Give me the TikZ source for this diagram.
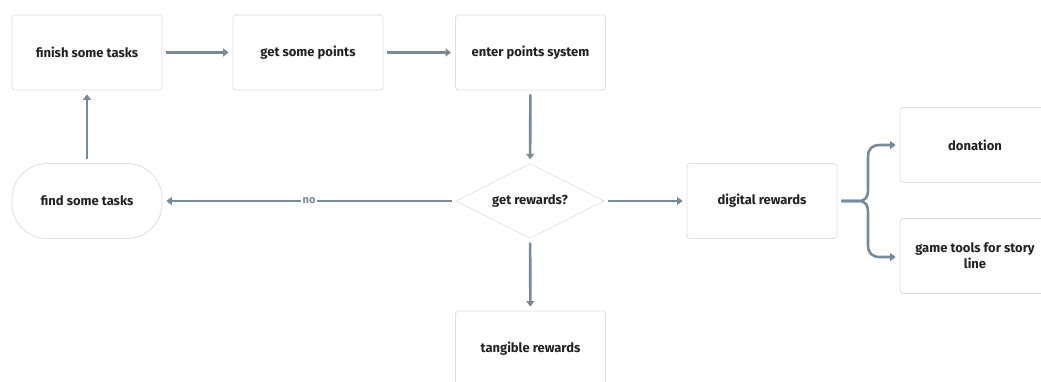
\documentclass[tikz,border=0pt]{standalone}
\usepackage{fontspec}
\setmainfont{Fira Sans}
\usetikzlibrary{arrows.meta,shapes.geometric}
\definecolor{arrowc}{RGB}{120,138,152}
\definecolor{boxline}{RGB}{222,222,222}
\definecolor{txt}{RGB}{34,34,34}
\tikzset{
  stepbox/.style={draw=boxline, line width=0.8pt, rounded corners=3pt, fill=white,
    minimum width=150pt, minimum height=75pt, inner sep=2pt,
    font=\bfseries\fontsize{13}{16}\selectfont, text=txt, align=center},
  termbox/.style={stepbox, rounded corners=35pt},
  decbox/.style={draw=boxline, line width=0.6pt, diamond, aspect=2, fill=white,
    minimum width=148pt, minimum height=75pt, inner sep=0pt,
    font=\bfseries\fontsize{13}{15}\selectfont, text=txt},
  arr/.style={draw=arrowc, line width=2.6pt, shorten >=4pt, shorten <=4pt,
    -{Triangle[length=5.5pt,width=8pt]}},
  lbl/.style={fill=white, text=arrowc, inner sep=1.5pt, font=\bfseries\fontsize{11}{13}\selectfont}
}
\begin{document}
\begin{tikzpicture}[x=1pt,y=-1pt]
\useasboundingbox (0,0) rectangle (1041,381);
\begin{scope}
\clip (0,0) rectangle (1041,381);
\node[stepbox] (fin) at (87,52.5) {finish some tasks};
\node[stepbox] (pts) at (308,52.5) {get some points};
\node[stepbox] (ent) at (530.5,52.5) {enter points system};
\node[termbox] (find) at (87,201) {find some tasks};
\node[decbox] (dec) at (530,201) {get rewards?};
\node[stepbox] (dig) at (762,201) {digital rewards};
\node[stepbox] (don) at (975,145) {donation};
\node[stepbox] (game) at (975,256) {game tools for story\\line};
\node[stepbox] (tan) at (530.5,348.5) {tangible rewards};

\draw[arr] (fin) -- (pts);
\draw[arr] (pts) -- (ent);
\draw[arr] (ent) -- (dec);
\draw[arr] (dec) -- node[lbl] {no} (find);
\draw[arr] (find) -- (fin);
\draw[arr] (dec) -- (dig);
\draw[arr] (dec) -- (tan);
\draw[arr] (dig.east) -- (858,201) .. controls (866,201) and (868,197) .. (868,189)
  -- (868,157) .. controls (868,149) and (872,145) .. (880,145) -- (don.west);
\draw[arr] (dig.east) -- (858,201) .. controls (866,201) and (868,205) .. (868,213)
  -- (868,245) .. controls (868,253) and (872,257) .. (880,257) -- (game.west |- 0,257);
\end{scope}
\end{tikzpicture}
\end{document}
